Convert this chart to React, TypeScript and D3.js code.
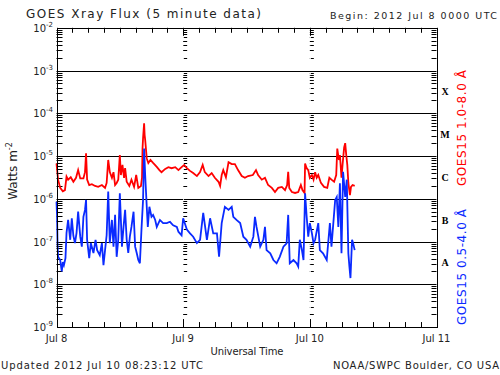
import React from "react";
import * as d3 from "d3";

// ---- data (hours since 2012 Jul 8 00:00 UTC, flux in W m^-2) ----
const redHours = [0,0.3,0.7,1.2,1.6,1.9,2.2,2.7,3.2,3.7,4.1,4.5,5.1,5.4,5.6,5.8,6.2,6.7,7.3,7.9,8.6,9.2,9.5,9.8,10.1,10.5,10.8,11.1,11.4,11.7,12.0,12.2,12.5,12.8,13.0,13.3,13.8,14.2,14.7,15.1,15.5,16.0,16.2,16.3,16.4,16.6,16.7,16.8,17.1,17.4,17.8,18.3,19.0,19.5,19.9,20.6,21.2,21.8,22.5,23.1,23.7,24.2,24.7,25.3,25.9,26.6,27.2,27.7,28.1,28.8,29.4,30.0,30.7,31.0,31.3,31.6,32.1,32.6,33.2,33.8,34.4,35.1,35.7,36.3,37.2,37.8,38.2,38.9,39.5,40.1,40.8,41.4,42.0,42.7,43.3,43.7,43.9,44.1,44.6,45.2,45.8,46.3,46.6,47.0,47.1,47.4,47.7,48.0,48.4,48.7,49.0,49.3,49.6,50.1,50.7,51.3,51.7,52.1,52.6,53.0,53.2,53.5,53.7,54.0,54.2,54.5,54.7,54.9,55.1,55.3,55.6,55.8,56.1,56.5];
const redFlux = [6.7e-6,2.8e-6,1.8e-6,1.5e-6,1.6e-6,3.3e-6,2.8e-6,3.2e-6,2.5e-6,3.1e-6,
  4.7e-6,3.0e-6,3.0e-6,4.2e-6,1.16e-5,2.8e-6,2.1e-6,2.2e-6,2.0e-6,1.9e-6,
  2.1e-6,1.8e-6,2.35e-6,8.1e-6,4.2e-6,3.1e-6,4.2e-6,2.1e-6,2.35e-6,2.8e-6,
  1.06e-5,3.6e-6,6.2e-6,3.1e-6,5.2e-6,2.5e-6,2.0e-6,2.8e-6,1.9e-6,3.6e-6,
  1.8e-6,2.0e-6,3.1e-6,1.5e-5,2.6e-5,5.8e-5,3.1e-5,2.4e-5,8.8e-6,6.9e-6,
  8.1e-6,6.9e-6,5.6e-6,4.7e-6,4.2e-6,5.0e-6,5.5e-6,5.2e-6,5.5e-6,4.7e-6,
  5.5e-6,6.2e-6,5.2e-6,4.5e-6,4.0e-6,3.4e-6,4.2e-6,6.2e-6,4.2e-6,3.4e-6,
  4.0e-6,3.1e-6,2.5e-6,2.0e-6,3.6e-6,4.7e-6,3.2e-6,7.2e-6,6.5e-6,6.5e-6,
  4.7e-6,3.4e-6,3.1e-6,3.4e-6,3.6e-6,4.7e-6,3.6e-6,2.8e-6,3.1e-6,2.1e-6,
  1.8e-6,1.44e-6,1.8e-6,1.9e-6,1.6e-6,2.1e-6,4.3e-6,1.8e-6,1.44e-6,1.37e-6,
  1.44e-6,2.1e-6,1.6e-6,1.37e-6,6.7e-6,5.2e-6,4.7e-6,3.1e-6,3.6e-6,2.8e-6,
  4.2e-6,3.1e-6,3.6e-6,2.35e-6,1.9e-6,1.8e-6,3.1e-6,2.8e-6,2.5e-6,3.6e-6,
  1.5e-5,8.1e-6,1.06e-5,3.1e-6,6.2e-6,1.6e-5,2.0e-5,1.06e-5,6.2e-6,2.35e-6,
  1.22e-6,1.9e-6,2.1e-6,2.0e-6];

const blueHours = [0.0,0.1,0.2,0.3,0.7,1.0,1.2,1.4,1.7,1.9,2.2,2.6,2.9,3.2,3.5,3.8,4.1,4.5,4.8,5.1,5.4,5.6,5.8,6.2,6.5,7.0,7.4,7.7,8.2,8.6,8.9,9.2,9.5,9.8,10.1,10.5,10.8,11.1,11.4,11.7,12.0,12.4,12.7,13.0,13.3,13.6,13.9,14.2,14.6,14.9,15.2,15.5,15.8,16.1,16.4,16.6,16.8,17.1,17.3,17.6,18.0,18.3,18.7,19.0,19.6,20.2,20.9,21.5,22.1,22.8,23.1,23.7,24.0,24.7,25.3,25.9,26.6,27.2,27.8,28.5,29.1,29.7,30.4,30.8,31.3,31.9,32.6,33.2,33.5,34.1,34.8,35.4,36.0,36.7,37.3,37.6,37.9,38.6,39.2,39.5,39.8,40.5,41.1,41.7,42.3,43.0,43.6,43.9,44.2,44.9,45.5,45.8,46.1,46.5,46.8,47.1,47.4,47.7,48.0,48.4,48.7,49.0,49.6,49.9,50.5,51.2,51.8,52.1,52.8,53.1,53.4,53.7,54.0,54.3,54.7,55.0,55.3,55.5,55.7,56.0,56.2,56.5];
const blueFlux = [8.5e-7,4.2e-7,8.3e-8,4.4e-8,3.7e-8,2.0e-8,3.3e-8,2.8e-8,4.1e-8,1.6e-7,
  3.2e-7,1.1e-7,3.5e-7,1.35e-7,9.2e-8,1.6e-7,5.0e-7,1.3e-7,7.6e-8,3.8e-7,
  5.5e-7,9.4e-7,1.1e-7,4.1e-8,9.2e-8,5.4e-8,1.1e-7,6.3e-8,4.8e-8,9.2e-8,
  2.8e-8,6.3e-8,1.4e-7,1.47e-6,9.2e-8,3.2e-7,7.6e-8,4.2e-7,4.4e-8,1.1e-7,
  1.35e-6,7.6e-8,2.2e-7,5.5e-7,1.1e-7,5.4e-8,1.3e-7,2.2e-7,5.0e-7,7.6e-8,
  5.4e-8,3.7e-8,3.1e-8,1.9e-7,9.4e-7,1.5e-5,3.6e-6,6.5e-7,2.2e-7,6.5e-7,
  3.8e-7,4.2e-7,3.2e-7,2.2e-7,3.2e-7,2.7e-7,2.7e-7,2.9e-7,2.4e-7,2.2e-7,
  1.7e-7,1.4e-7,3.5e-7,1.9e-7,1.55e-7,1.3e-7,9.2e-8,1.1e-7,4.7e-7,1.1e-7,
  3.5e-7,1.55e-7,1.55e-7,4.4e-8,2.7e-7,6.5e-7,5.5e-7,6.5e-7,3.8e-7,3.2e-7,
  2.7e-7,1.3e-7,1.1e-7,7.6e-8,1.3e-7,3.8e-7,2.2e-7,7.6e-8,1.1e-7,2.2e-7,
  6.3e-8,5.3e-8,3.7e-8,3.1e-8,4.4e-8,7.6e-8,9.1e-8,4.2e-7,3.1e-8,3.7e-8,
  3.1e-8,2.6e-8,1.1e-7,6.3e-8,3.7e-8,1.35e-6,3.8e-7,1.3e-7,2.7e-7,1.55e-7,
  9.1e-8,1.1e-7,2.7e-7,6.3e-8,5.3e-8,3.7e-8,2.7e-7,7.6e-8,9.4e-7,1.1e-6,
  2.2e-7,2.3e-6,5.3e-8,4.3e-6,1.1e-6,2.8e-6,5.3e-8,2.6e-8,1.4e-8,1.1e-7,
  9.1e-8,6.3e-8];

const dayLabels = ["Jul 8", "Jul 9", "Jul 10", "Jul 11"];
const decadeExps = [-2, -3, -4, -5, -6, -7, -8, -9];
const flareClasses = ["X", "M", "C", "B", "A"];
const titleText = "GOES Xray Flux (5 minute data)";
const beginText = "Begin:  2012 Jul 8 0000 UTC";
const updatedText = "Updated 2012 Jul 10 08:23:12 UTC";
const creditText = "NOAA/SWPC Boulder, CO USA";
const longLabel = "GOES15 1.0-8.0 \u00C5";
const shortLabel = "GOES15 0.5-4.0 \u00C5";

const RED = "#ff0000";
const BLUE = "#0a2aff";
const FONT = "DejaVu Sans, sans-serif";
const TXT = "#222";

export default function App() {
  const L = 56.5, R = 436.5, T = 27.8, B = 327.05;
  const x = d3.scaleLinear().domain([0, 72]).range([L, R]);
  const y = d3.scaleLog().domain([1e-9, 1e-2]).range([B, T]);

  const redLine = d3.line<number>().x((_, i) => x(redHours[i])).y((d) => y(d))(redFlux) || "";
  const blueLine = d3.line<number>().x((_, i) => x(blueHours[i])).y((d) => y(d))(blueFlux) || "";

  const minorVals: number[] = [];
  for (let e = -9; e < -2; e++) for (let k = 2; k <= 9; k++) minorVals.push(k * Math.pow(10, e));
  const gridVals = [-3, -4, -5, -6, -7, -8].map((e) => Math.pow(10, e));
  const hourTicks = d3.range(0, 73, 3);
  const px = (v: number) => Math.round(v) + 0.5;

  return (
    <svg width={500} height={375} style={{ position: "absolute", left: 0, top: 0, background: "#fff" }}>
      {/* title */}
      <text x={26} y={17.5} fontFamily={FONT} fontSize={12} fill={TXT} textLength={235} lengthAdjust="spacing">{titleText}</text>
      <text x={330} y={18.5} fontFamily={FONT} fontSize={9.5} fill={TXT} textLength={167} lengthAdjust="spacing">{beginText}</text>

      {/* grid lines */}
      {gridVals.map((v, i) => (
        <line key={"g" + i} x1={L} x2={R} y1={px(y(v))} y2={px(y(v))} stroke="#000" strokeWidth={1} />
      ))}

      {/* minor log ticks on left, right and day boundaries */}
      {minorVals.map((v, i) => (
        <g key={"m" + i}>
          <line x1={L} x2={L + 6} y1={px(y(v))} y2={px(y(v))} stroke="#000" />
          <line x1={R - 5} x2={R} y1={px(y(v))} y2={px(y(v))} stroke="#000" />
          {[24, 48].map((h) => (
            <line key={h} x1={x(h)} x2={x(h) + 4} y1={px(y(v))} y2={px(y(v))} stroke="#000" />
          ))}
        </g>
      ))}
      {[24, 48].map((h) => (
        <line key={"dv" + h} x1={px(x(h))} x2={px(x(h))} y1={T} y2={B} stroke="#fff" strokeDasharray="1,2" />
      ))}

      {/* time ticks */}
      {hourTicks.map((h) => {
        const len = h % 24 === 0 ? 8 : 5;
        return (
          <g key={"t" + h}>
            <line x1={px(x(h))} x2={px(x(h))} y1={T} y2={T + len} stroke="#000" />
            <line x1={px(x(h))} x2={px(x(h))} y1={B} y2={B - len} stroke="#000" />
          </g>
        );
      })}

      {/* data */}
      <path d={redLine} fill="none" stroke={RED} strokeWidth={1.8} strokeLinejoin="miter" />
      <path d={blueLine} fill="none" stroke={BLUE} strokeWidth={1.8} strokeLinejoin="miter" />

      {/* frame */}
      <rect x={px(L)} y={px(T)} width={Math.round(R - L)} height={Math.round(B - T)} fill="none" stroke="#000" />

      {/* y tick labels */}
      {decadeExps.map((e) => (
        <text key={"yl" + e} x={53} y={y(Math.pow(10, e)) + 4} textAnchor="end" fontFamily={FONT} fontSize={10} fill={TXT}>
          10<tspan dy={-5} fontSize={7}>{String(e)}</tspan>
        </text>
      ))}
      <text transform={`translate(17,171) rotate(-90)`} textAnchor="middle" fontFamily={FONT} fontSize={12} fill={TXT}>
        Watts m<tspan dy={-5} fontSize={8}>-2</tspan>
      </text>

      {/* x labels */}
      {dayLabels.map((d, i) => (
        <text key={d} x={x(i * 24)} y={342} textAnchor="middle" fontFamily={FONT} fontSize={10} fill={TXT}>{d}</text>
      ))}
      <text x={247} y={355} textAnchor="middle" fontFamily={FONT} fontSize={10} fill={TXT} textLength={73} lengthAdjust="spacing">Universal Time</text>

      {/* flare classes */}
      {flareClasses.map((c, i) => (
        <text key={c} x={445} y={y(Math.pow(10, -3.5 - i)) + 3.5} textAnchor="middle" fontFamily="Liberation Serif, serif" fontWeight="bold" fontSize={10} fill="#000">{c}</text>
      ))}

      {/* channel labels */}
      <text transform={`translate(466,128) rotate(-90)`} textAnchor="middle" fontFamily={FONT} fontSize={12} fill={RED} textLength={116} lengthAdjust="spacing">{longLabel}</text>
      <text transform={`translate(466,267) rotate(-90)`} textAnchor="middle" fontFamily={FONT} fontSize={12} fill={BLUE} textLength={116} lengthAdjust="spacing">{shortLabel}</text>

      {/* footer */}
      <text x={1} y={369} fontFamily={FONT} fontSize={10} fill={TXT} textLength={202} lengthAdjust="spacing">{updatedText}</text>
      <text x={333} y={369} fontFamily={FONT} fontSize={10} fill={TXT} textLength={166} lengthAdjust="spacing">{creditText}</text>
    </svg>
  );
}
